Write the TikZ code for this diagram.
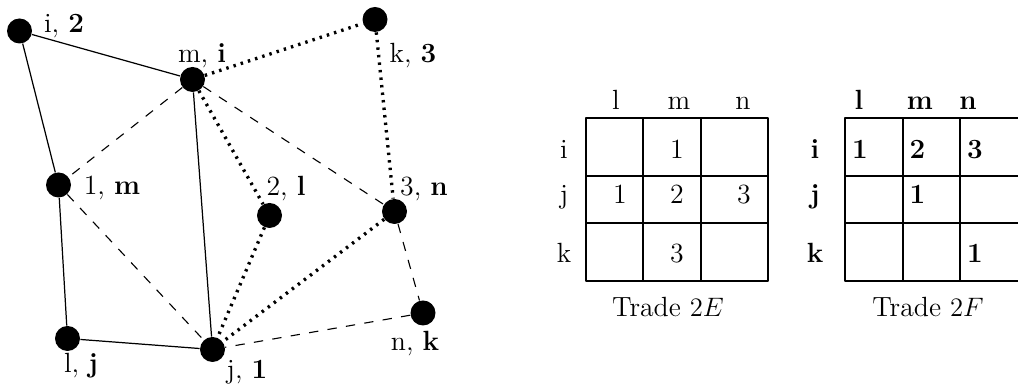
\documentclass[tikz,border=0pt]{standalone}
\usepackage{amsmath}
\usepackage{tikz}
\usetikzlibrary{calc}

\begin{document}
\begin{tikzpicture}[x=0.45pt, y=-0.45pt, line join=round,
    font=\fontsize{12.5pt}{15pt}\selectfont,
    dot/.style={circle, fill=black, inner sep=0pt, minimum size=11.25pt},
    lbl/.style={anchor=base, inner sep=0pt},
    plain/.style={line width=0.55pt},
    dashln/.style={line width=0.5pt, dash pattern=on 4.2pt off 4.2pt},
    dotln/.style={line width=1.5pt, dash pattern=on 1.1pt off 2.3pt},
    grid/.style={line width=0.5pt}]
  \clip (0,0) rectangle (1018,389);
  % vertices of the graph
  \node[dot] (vi) at (19.5,31)    {};
  \node[dot] (vm) at (192.5,79.5) {};
  \node[dot] (vk) at (375,19.5)   {};
  \node[dot] (v1) at (58.5,185)   {};
  \node[dot] (v2) at (269.5,215.5) {};
  \node[dot] (v3) at (394.5,211.5) {};
  \node[dot] (vn) at (423,313)    {};
  \node[dot] (vl) at (67.5,338.5) {};
  \node[dot] (vj) at (212.5,349.5) {};
  % vertex labels
  \node[lbl] (ti) at (64,33)   {i, \textbf{2}};
  \node[lbl] (tm) at (202,63)  {m, \textbf{i}};
  \node[lbl] (tk) at (413,63)  {k, \textbf{3}};
  \node[lbl] (t1) at (112,195) {1, \textbf{m}};
  \node[lbl] (t2) at (286,196) {2, \textbf{l}};
  \node[lbl] (t3) at (424,196) {3, \textbf{n}};
  \node[lbl] (tn) at (415,351) {n, \textbf{k}};
  \node[lbl] (tl) at (81,373)  {l, \textbf{j}};
  \node[lbl] (tj) at (247,379) {j, \textbf{1}};
  % edges
  \draw[plain] (vi) -- (vm);
  \draw[plain] (vi) -- (v1);
  \draw[plain] (v1) -- (vl);
  \draw[plain] (vl) -- (vj);
  \draw[plain] (vm) -- (vj);
  \draw[dashln] (vm) -- (v1);
  \draw[dashln] (vm) -- (v3);
  \draw[dashln] (v1) -- (vj);
  \draw[dashln] (v3) -- (vn);
  \draw[dashln] (vn) -- (vj);
  \draw[dotln] (vm) -- (vk);
  \draw[dotln] (vk) -- (v3);
  \draw[dotln] (vm) -- (v2);
  \draw[dotln] (v2) -- (vj);
  \draw[dotln] (v3) -- (vj);
  % trade 2E
  \draw[grid] (586,118) rectangle (768,281);
  \foreach \gx in {643,701} \draw[grid] (\gx,118) -- (\gx,281);
  \foreach \gy in {176,223} \draw[grid] (586,\gy) -- (768,\gy);
  \foreach \txt/\px in {l/616, m/679, n/743}
    \node[lbl] (hE\txt) at (\px,110) {\txt};
  \foreach \txt/\py in {i/158.5, j/204, k/263}
    \node[lbl] (rE\txt) at (564,\py) {\txt};
  \foreach \txt/\px/\py in {1/677/158.5, 1/620/204, 2/677/204, 3/744/204, 3/677/263}
    \node[lbl] (cE\px\py) at (\px,\py) {\txt};
  \node[lbl] (capE) at (668,317) {Trade $2E$};
  % trade 2F
  \draw[grid] (845,118) rectangle (1028,281);
  \foreach \gx in {903,960} \draw[grid] (\gx,118) -- (\gx,281);
  \foreach \gy in {176,223} \draw[grid] (845,\gy) -- (1028,\gy);
  \foreach \txt/\px in {l/859, m/920, n/968}
    \node[lbl] (hF\txt) at (\px,110) {\textbf{\txt}};
  \foreach \txt/\py in {i/158.5, j/204, k/263}
    \node[lbl] (rF\txt) at (815,\py) {\textbf{\txt}};
  \foreach \txt/\px/\py in {1/860/158.5, 2/917.5/158.5, 3/975/158.5, 1/917.5/204, 1/975/263}
    \node[lbl] (cF\px\py) at (\px,\py) {\textbf{\txt}};
  \node[lbl] (capF) at (928,317) {Trade $2F$};
\end{tikzpicture}
\end{document}
